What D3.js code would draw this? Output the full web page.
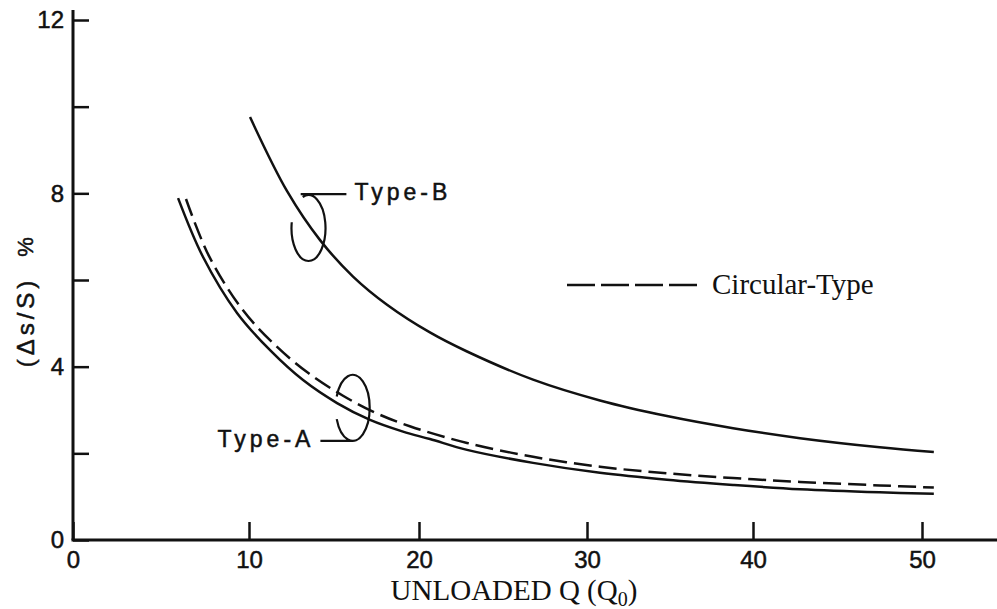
<!DOCTYPE html>
<html>
<head>
  <meta charset="utf-8">
  <title>Unloaded Q vs (Δs/S) %</title>
  <script src="https://d3js.org/d3.v7.min.js"></script>
  <style>
    body { margin: 0; background: #fff; }
    svg { display: block; }
  </style>
</head>
<body>
<svg class="chart"></svg>
<script>

// Tick values
const xTickValues = [0, 10, 20, 30, 40, 50];
const yTickValues = [0, 2, 4, 6, 8, 10, 12];
const yLabelValues = [0, 4, 8, 12];

// Type-B (solid)
const typeBQ   = [10.06, 12.24, 14.18, 16.12, 18.12, 20.65, 22.86, 26.79, 30.78, 34.82, 38.8, 42.78, 47.5, 50.7];
const typeBPct = [9.76, 8.05, 6.92, 6.08, 5.43, 4.79, 4.35, 3.70, 3.22, 2.86, 2.58, 2.35, 2.14, 2.03];

// Type-A (solid)
const typeAQ   = [5.97, 7.39, 9.32, 11.24, 13.18, 15.18, 17.12, 19.06, 20.65, 22.86, 26.79, 30.78, 34.82, 38.8, 42.78, 47.5, 50.7];
const typeAPct = [7.89, 6.53, 5.24, 4.38, 3.69, 3.16, 2.77, 2.50, 2.33, 2.08, 1.78, 1.55, 1.39, 1.27, 1.17, 1.10, 1.07];

// Circular-Type (dashed)
const circQ   = [6.42, 7.73, 9.66, 11.59, 13.53, 15.53, 17.47, 19.5, 22.86, 26.79, 30.78, 34.82, 38.8, 42.78, 47.5, 50.7];
const circPct = [7.87, 6.55, 5.30, 4.48, 3.84, 3.33, 2.93, 2.62, 2.24, 1.92, 1.69, 1.54, 1.43, 1.34, 1.26, 1.21];

const W = 997, H = 609;
const ink = "#111";

const svg = d3.select(".chart").attr("width", W).attr("height", H);

// the hand-drawn axis is not quite even, so the x scale is piecewise
const x = d3.scaleLinear().domain(xTickValues).range([73, 249, 419, 587, 753, 922]);
const y = d3.scaleLinear().domain([0, 12]).range([540, 20]);

const sansFont = "'Liberation Sans', Arial, sans-serif";
const serifFont = "'Liberation Serif', 'Times New Roman', serif";

// heavier look for the typewriter-like labels
function sansStyle(sel, size) {
  sel.attr("font-family", sansFont).attr("font-size", size)
    .attr("fill", ink).attr("stroke", ink).attr("stroke-width", 0.5);
}

// X axis
const gx = svg.append("g")
  .attr("transform", `translate(0, ${y(0)})`)
  .call(d3.axisBottom(x).tickValues(xTickValues).tickSizeInner(-18).tickSizeOuter(0).tickPadding(11));
gx.select(".domain").remove();
gx.selectAll(".tick line").attr("stroke", ink).attr("stroke-width", 2.5);
gx.selectAll(".tick text").call(sansStyle, 24);

// Y axis
const gy = svg.append("g")
  .attr("transform", `translate(${x(0)}, 0)`)
  .call(d3.axisLeft(y).tickValues(yTickValues)
    .tickFormat(d => yLabelValues.includes(d) ? d : "")
    .tickSizeInner(-16).tickSizeOuter(0).tickPadding(9));
gy.select(".domain").remove();
gy.selectAll(".tick line").attr("stroke", ink).attr("stroke-width", 2.5);
gy.selectAll(".tick text").call(sansStyle, 24);

// axis lines
svg.append("line")
  .attr("x1", x(0) - 1.5).attr("x2", W).attr("y1", y(0)).attr("y2", y(0))
  .attr("stroke", ink).attr("stroke-width", 3);
svg.append("line")
  .attr("x1", x(0)).attr("x2", x(0)).attr("y1", y(0)).attr("y2", y(12) - 10)
  .attr("stroke", ink).attr("stroke-width", 3);

// x title
const xTitle = svg.append("text")
  .attr("x", 514).attr("y", 600)
  .attr("text-anchor", "middle")
  .attr("font-family", serifFont).attr("font-size", 29).attr("fill", ink);
xTitle.append("tspan").text("UNLOADED Q (Q");
xTitle.append("tspan").attr("font-size", 20).attr("dy", 6).text("0");
xTitle.append("tspan").attr("dy", -6).text(")");

// y title
svg.append("text")
  .attr("transform", "translate(34, 322) rotate(-90)")
  .attr("text-anchor", "middle")
  .attr("letter-spacing", 4)
  .call(sansStyle, 24)
  .text("(Δs/S)");
svg.append("text")
  .attr("transform", "translate(33, 247) rotate(-90)")
  .attr("text-anchor", "middle")
  .call(sansStyle, 22)
  .text("%");

// curves
const line = d3.line()
  .x(d => x(d[0]))
  .y(d => y(d[1]))
  .curve(d3.curveCatmullRom.alpha(0.5));

const series = [
  { q: typeBQ, v: typeBPct, dash: null },
  { q: typeAQ, v: typeAPct, dash: null },
  { q: circQ,  v: circPct,  dash: "18,7" }
];

svg.selectAll(".curve")
  .data(series)
  .join("path")
    .attr("class", "curve")
    .attr("d", s => line(d3.zip(s.q, s.v)))
    .attr("fill", "none")
    .attr("stroke", ink)
    .attr("stroke-width", 2.5)
    .attr("stroke-dasharray", s => s.dash);

// loop annotations (open ellipse + leader)
function pt(cx, cy, rx, ry, deg) {
  const t = deg * Math.PI / 180;
  return [cx + rx * Math.cos(t), cy + ry * Math.sin(t)];
}

// Type-B
{
  const cx = x(13.5), cy = y(7.2), rx = 17, ry = 33;
  const a = pt(cx, cy, rx, ry, 250), b = pt(cx, cy, rx, ry, 190);
  const ly = y(7.98);
  svg.append("path")
    .attr("d", `M${x(16.2) - 8},${ly} L${a[0] - 2},${ly} M${a[0]},${a[1]} A${rx},${ry} 0 1 1 ${b[0]},${b[1]}`)
    .attr("fill", "none").attr("stroke", ink).attr("stroke-width", 2.2);
  svg.append("text")
    .attr("x", x(16.2)).attr("y", ly + 6)
    .attr("letter-spacing", 4)
    .call(sansStyle, 23)
    .text("Type-B");
}

// Type-A
{
  const cx = x(16.1), cy = y(3.05), rx = 17, ry = 33;
  const a = pt(cx, cy, rx, ry, 200), b = pt(cx, cy, rx, ry, 160);
  const ly = cy + ry;
  svg.append("path")
    .attr("d", `M${a[0]},${a[1]} A${rx},${ry} 0 1 1 ${b[0]},${b[1]} M${cx},${ly} L${x(14.2)},${ly}`)
    .attr("fill", "none").attr("stroke", ink).attr("stroke-width", 2.2);
  svg.append("text")
    .attr("x", x(14.2) - 6).attr("y", ly + 6)
    .attr("text-anchor", "end")
    .attr("letter-spacing", 4)
    .call(sansStyle, 23)
    .text("Type-A");
}

// legend
const legend = svg.append("g").attr("transform", "translate(567, 285)");
legend.append("line")
  .attr("x1", 0).attr("x2", 131).attr("y1", 0).attr("y2", 0)
  .attr("stroke", ink).attr("stroke-width", 2.5).attr("stroke-dasharray", "28,6");
legend.append("text")
  .attr("x", 145).attr("y", 9)
  .attr("font-family", serifFont).attr("font-size", 29).attr("fill", ink)
  .text("Circular-Type");

</script>
</body>
</html>
